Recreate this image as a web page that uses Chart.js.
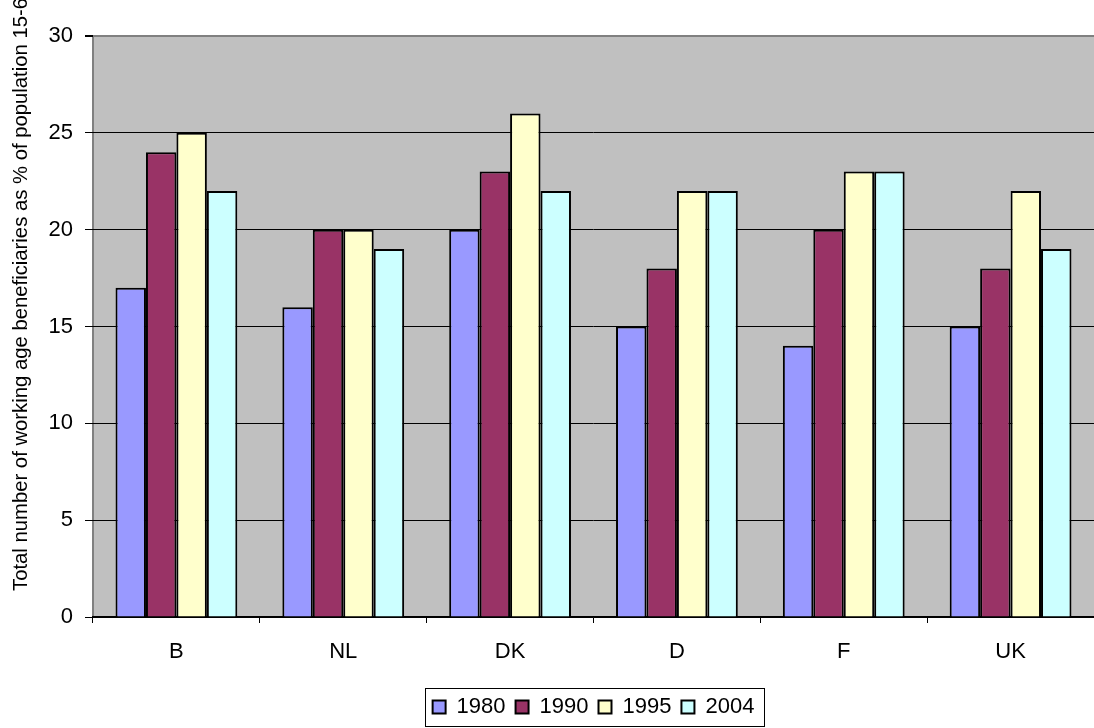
<!DOCTYPE html>
<html>
<head>
<meta charset="utf-8">
<script src="https://cdn.jsdelivr.net/npm/chart.js@4/dist/chart.umd.min.js"></script>
<style>
  html, body { margin: 0; padding: 0; background: #fff; }
  #wrap { width: 1094px; height: 728px; }
</style>
</head>
<body>
<div id="wrap"><canvas id="benefChart" width="1094" height="728"></canvas></div>
<script>
var countries = ['B', 'NL', 'DK', 'D', 'F', 'UK'];
var years = ['1980', '1990', '1995', '2004'];
var v1980 = [17, 16, 20, 15, 14, 15];
var v1990 = [24, 20, 23, 18, 20, 18];
var v1995 = [25, 20, 26, 22, 23, 22];
var v2004 = [22, 19, 22, 22, 23, 19];
var barColors = ['#9999ff', '#993366', '#ffffcc', '#ccffff'];
var yTitle = 'Total number of working age beneficiaries as % of population 15-64';

var FONT = 'Liberation Sans, Arial, sans-serif';

// grey plot area like the old excel charts, title + legend frame
var plotBackground = {
    id: 'plotBackground',
    afterUpdate: function (chart) {
        // excel centres the legend under the plot, not the whole canvas
        var lg = chart.legend, a = chart.chartArea;
        if (!lg) return;
        var dx = (a.left + a.right) / 2 - (lg.left + lg.right) / 2;
        lg.left += dx;
        lg.right += dx;
        lg.adjustHitBoxes();
    },
    beforeDraw: function (chart) {
        var ctx = chart.ctx, a = chart.chartArea;
        ctx.save();
        ctx.fillStyle = '#c0c0c0';
        ctx.fillRect(a.left, a.top, a.right - a.left, a.bottom - a.top);
        ctx.strokeStyle = '#808080';
        ctx.lineWidth = 2;
        ctx.beginPath();
        ctx.moveTo(a.left, a.bottom);
        ctx.lineTo(a.left, a.top);
        ctx.lineTo(a.right, a.top);
        ctx.stroke();
        ctx.restore();
    },
    afterDraw: function (chart) {
        var ctx = chart.ctx;
        ctx.save();
        ctx.translate(27, 591);
        ctx.rotate(-Math.PI / 2);
        ctx.font = '20.3px ' + FONT;
        ctx.fillStyle = '#000';
        ctx.textAlign = 'left';
        ctx.textBaseline = 'alphabetic';
        ctx.fillText(yTitle, 0, 0);
        ctx.restore();

        var lg = chart.legend;
        if (lg && lg.legendHitBoxes.length) {
            var boxes = lg.legendHitBoxes;
            var l = boxes[0].left - 8;
            var last = boxes[boxes.length - 1];
            var r = last.left + last.width + 9;
            ctx.save();
            ctx.strokeStyle = '#000';
            ctx.lineWidth = 1;
            ctx.strokeRect(Math.round(l) + 0.5, 688.5, Math.round(r - l), 38);
            ctx.restore();
        }
    }
};

var sets = [v1980, v1990, v1995, v2004].map(function (vals, i) {
    return {
        label: years[i],
        data: vals,
        backgroundColor: barColors[i],
        borderColor: '#000',
        borderWidth: 2,
        barPercentage: 1.0,
        categoryPercentage: 0.73
    };
});

new Chart(document.getElementById('benefChart'), {
    type: 'bar',
    data: { labels: countries, datasets: sets },
    options: {
        responsive: false,
        animation: false,
        layout: { padding: { top: 36, left: 0, right: 0, bottom: 0 } },
        plugins: {
            legend: {
                display: true,
                position: 'bottom',
                labels: {
                    font: { family: FONT, size: 22 },
                    color: '#000',
                    boxWidth: 13,
                    boxHeight: 13,
                    padding: 10
                }
            },
            tooltip: { enabled: false }
        },
        scales: {
            x: {
                grid: {
                    display: true,
                    drawOnChartArea: false,
                    drawTicks: true,
                    tickLength: 6,
                    color: '#000',
                    offset: true
                },
                border: { display: true, color: '#000', width: 1.5 },
                ticks: { font: { family: FONT, size: 22 }, color: '#000', padding: 16 },
                afterFit: function (scale) { scale.height = 69; }
            },
            y: {
                min: 0,
                max: 30,
                ticks: {
                    stepSize: 5,
                    font: { family: FONT, size: 22 },
                    color: '#000',
                    padding: 12
                },
                grid: {
                    color: function (c) { return c.tick && c.tick.value === 30 ? '#808080' : '#000'; },
                    lineWidth: function (c) { return c.tick && c.tick.value === 30 ? 2 : 1; },
                    tickColor: '#000',
                    tickLength: 8
                },
                border: { display: false },
                afterFit: function (scale) { scale.width = 93; }
            }
        }
    },
    plugins: [plotBackground]
});
</script>
</body>
</html>
